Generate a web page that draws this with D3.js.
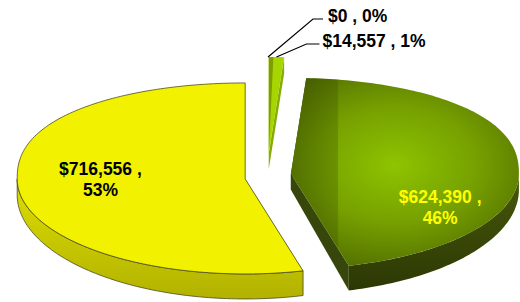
<!DOCTYPE html>
<html>
<head>
<meta charset="utf-8">
<script src="https://cdn.jsdelivr.net/npm/d3@7"></script>
<style>
  html, body { margin: 0; padding: 0; background: #fff; }
  svg { display: block; }
  text { font-family: "Liberation Sans", Arial, sans-serif; font-weight: bold; }
</style>
</head>
<body>
<svg id="chart" width="520" height="302"></svg>
<script>
// slices, clockwise from 12 o'clock
const names = ["Zero", "Small", "Green", "Yellow"];
const values = [0, 14557, 624390, 716556];
const topColors = ["#a6d600", "#a6d600", "url(#greenTop)", "#f2f200"];
const sideColors = ["#7a9c00", "#7a9c00", "url(#greenSide)", "url(#yellowSide)"];
const cutColors = ["#86ac00", "#86ac00", "#37460a", "#c8c800"];
const labelColors = ["#000", "#000", "#ffff00", "#000"];

const width = 520, height = 302;
const cx0 = 268, cy0 = 176;
const rx = 228, ryBack = 96, ryFront = 95, explode = 23;
const backPow = 0.85;   // back of the disc is a bit boxier than an ellipse
const frontWarp = 0.218; // perspective spreads the front angles

const svg = d3.select("#chart");
const defs = svg.append("defs");

const gTop = defs.append("radialGradient").attr("id", "greenTop")
  .attr("gradientUnits", "userSpaceOnUse")
  .attr("cx", 395).attr("cy", 165).attr("r", 150)
  .attr("gradientTransform", "translate(395,165) scale(1,0.7) translate(-395,-165)");
gTop.append("stop").attr("offset", "0%").attr("stop-color", "#8ec400");
gTop.append("stop").attr("offset", "55%").attr("stop-color", "#76a000");
gTop.append("stop").attr("offset", "100%").attr("stop-color", "#557200");

const gSide = defs.append("linearGradient").attr("id", "greenSide")
  .attr("x1", 0).attr("y1", 0).attr("x2", 0).attr("y2", 1);
gSide.append("stop").attr("offset", "0%").attr("stop-color", "#47590a");
gSide.append("stop").attr("offset", "100%").attr("stop-color", "#2c3804");

const ySide = defs.append("linearGradient").attr("id", "yellowSide")
  .attr("x1", 0).attr("y1", 0).attr("x2", 0).attr("y2", 1);
ySide.append("stop").attr("offset", "0%").attr("stop-color", "#dede00");
ySide.append("stop").attr("offset", "100%").attr("stop-color", "#b2b200");

// darker band on the left of the green top
const band = defs.append("linearGradient").attr("id", "greenBand")
  .attr("gradientUnits", "userSpaceOnUse")
  .attr("x1", 290).attr("y1", 0).attr("x2", 350).attr("y2", 0);
band.append("stop").attr("offset", "0%").attr("stop-color", "#2a3a00").attr("stop-opacity", 0.38);
band.append("stop").attr("offset", "79%").attr("stop-color", "#2a3a00").attr("stop-opacity", 0.22);
band.append("stop").attr("offset", "81%").attr("stop-color", "#2a3a00").attr("stop-opacity", 0);

const total = d3.sum(values);
const pie = d3.pie().sort(null).value(d => d)(values);
const pct = d3.format(".0%");
const money = d3.format("$,");

// angle as drawn: front half spread out a little
const warp = a => (a > Math.PI / 2 && a < Math.PI * 1.5) ? a + frontWarp * Math.sin(2 * a) : a;
const depthAt = v => 16 + 9 * Math.max(v, 0);

// project a drawn angle (clockwise from top) on the tilted disc
const rim = (c, a, withDepth = false) => {
  const s = Math.sin(a), co = Math.cos(a);
  const v = co > 0 ? -Math.pow(co, backPow) : -co;
  const y = c[1] + (v < 0 ? ryBack : ryFront) * v;
  return [c[0] + rx * s, withDepth ? y + depthAt(v) : y];
};
const line = d3.line();

const slices = pie.map((d, i) => {
  const a0 = warp(d.startAngle), a1 = warp(d.endAngle);
  const mid = (a0 + a1) / 2;
  const c = [cx0 + explode * Math.sin(mid), cy0 - explode * Math.cos(mid)];
  return { ...d, i, a0, a1, mid, c };
});

function arcPoints(c, a0, a1, withDepth = false) {
  const n = Math.max(2, Math.ceil((a1 - a0) / 0.02));
  return d3.range(n + 1).map(k => rim(c, a0 + (a1 - a0) * k / n, withDepth));
}

const g = svg.append("g");

// draw back slices first (the small ones at the top)
const order = [0, 1, 3, 2];
order.forEach(i => {
  const s = slices[i];
  if (s.a1 - s.a0 <= 0) return;
  const gs = g.append("g");
  const stroke = i === 3 ? "#4a4a20" : "none";

  // radial cut faces
  [s.a0, s.a1].forEach(a => {
    const p1 = s.c, p2 = rim(s.c, a), q2 = rim(s.c, a, true);
    gs.append("path")
      .attr("d", line([p1, p2, q2, [p1[0], p1[1] + depthAt(0)]]) + "Z")
      .attr("fill", cutColors[i]);
  });

  // outer rim side, front half only
  const f0 = Math.max(s.a0, Math.PI / 2), f1 = Math.min(s.a1, Math.PI * 1.5);
  if (f1 > f0) {
    const top = arcPoints(s.c, f0, f1);
    const bot = arcPoints(s.c, f0, f1, true).reverse();
    gs.append("path")
      .attr("d", line(top.concat(bot)) + "Z")
      .attr("fill", sideColors[i])
      .attr("stroke", stroke).attr("stroke-width", 0.8);
  }

  // top face
  const topPath = line([s.c].concat(arcPoints(s.c, s.a0, s.a1))) + "Z";
  gs.append("path")
    .attr("d", topPath)
    .attr("fill", topColors[i])
    .attr("stroke", stroke).attr("stroke-width", 0.8);
  if (i === 2) {
    gs.append("path").attr("d", topPath).attr("fill", "url(#greenBand)");
  }
  if (i === 1) {
    // darker left sliver of the thin slice
    const b = s.a0 + (s.a1 - s.a0) * 0.3;
    gs.append("path")
      .attr("d", line([s.c].concat(arcPoints(s.c, s.a0, b))) + "Z")
      .attr("fill", "#7e9e00");
  }
});

// labels inside the large slices
slices.filter(s => s.value > total * 0.1).forEach(s => {
  const p = rim(s.c, s.mid);
  const k = 0.64;
  const x = s.c[0] + (p[0] - s.c[0]) * k + (s.i === 2 ? 4 : 0);
  const y = s.c[1] + (p[1] - s.c[1]) * k + (s.i === 2 ? 41 : -8);
  const t = g.append("text")
    .attr("text-anchor", "middle")
    .attr("fill", labelColors[s.i])
    .style("font-size", "17.5px");
  t.append("tspan").attr("x", x).attr("y", y - 4).text(money(s.value) + " ,");
  t.append("tspan").attr("x", x).attr("y", y + 17).text(pct(s.value / total));
});

// outside labels with leader lines for the tiny slices
slices.filter(s => s.value <= total * 0.1).forEach((s, j) => {
  const p = rim(s.c, s.mid);
  const elbow = j === 0 ? [p[0] + 45, 19] : [p[0] + 30, 44];
  const end = [elbow[0] + (j === 0 ? 10 : 13), elbow[1]];
  g.append("path")
    .attr("d", line([p, elbow, end]))
    .attr("fill", "none").attr("stroke", "#000").attr("stroke-width", 1.2);
  g.append("text")
    .attr("x", end[0] + (j === 0 ? 5 : 3)).attr("y", end[1] + 3)
    .attr("fill", labelColors[s.i])
    .style("font-size", "17.5px")
    .text(money(s.value) + " , " + pct(s.value / total));
});
</script>
</body>
</html>
